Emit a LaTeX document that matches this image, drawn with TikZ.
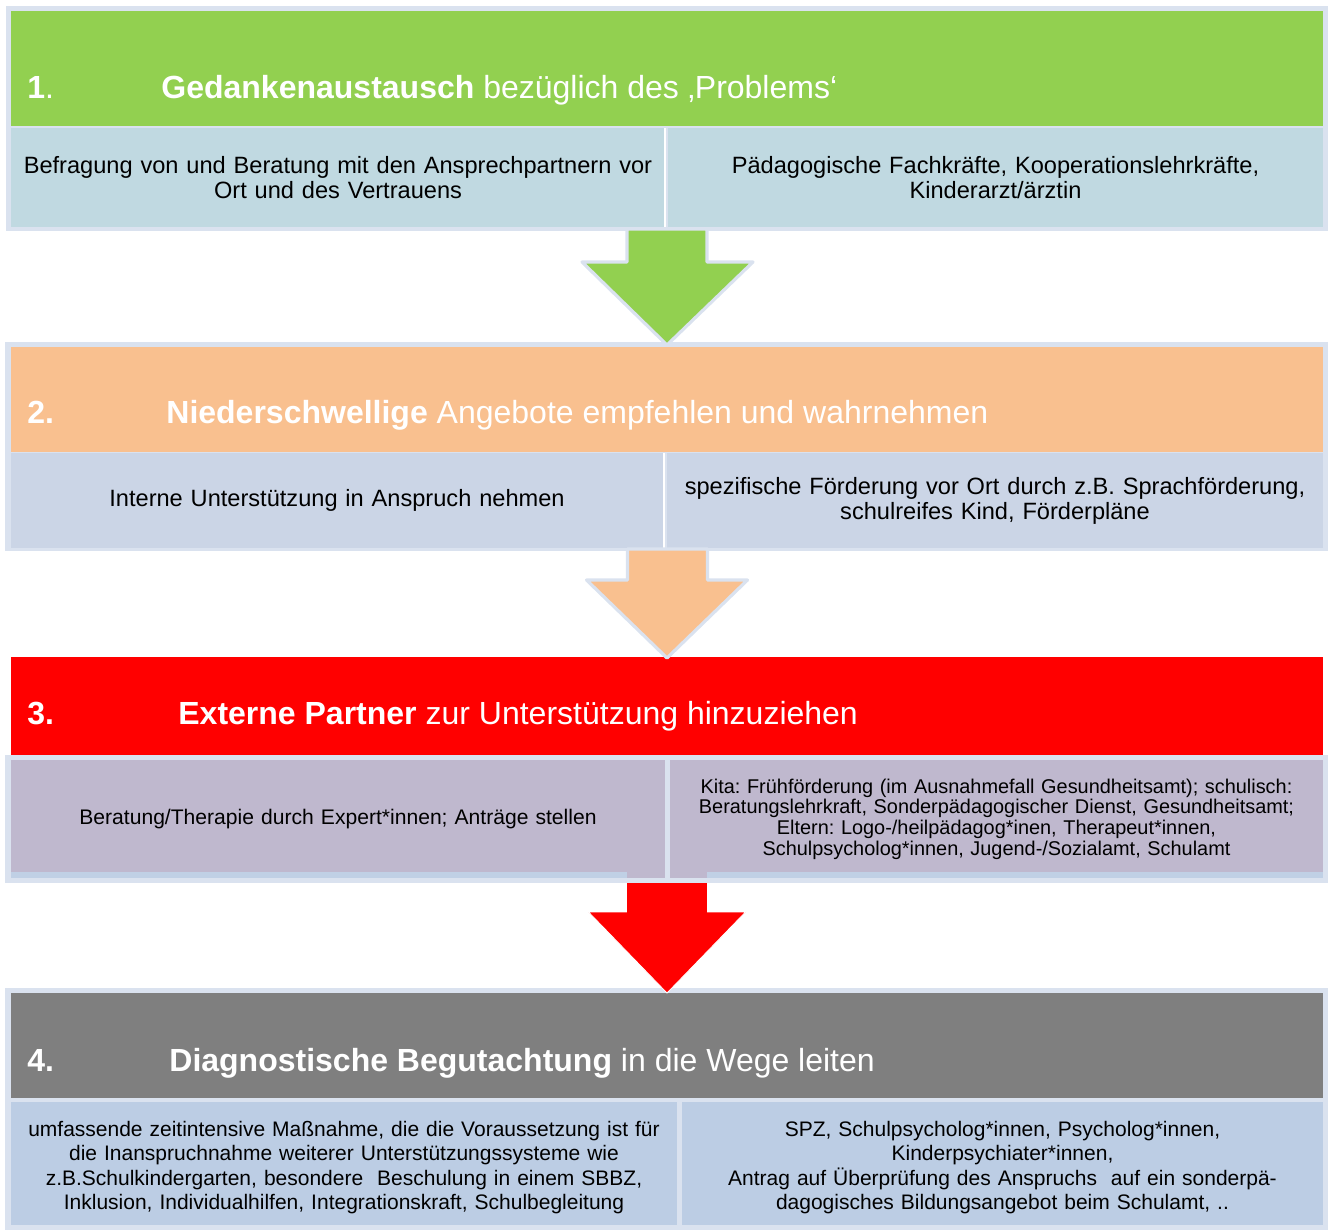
\documentclass[tikz,border=0pt]{standalone}
\usepackage{fontspec}
\setmainfont{Liberation Sans}
\usetikzlibrary{calc}

\definecolor{framecol}{RGB}{218,226,239}
\definecolor{greenhead}{RGB}{146,208,80}
\definecolor{orangehead}{RGB}{249,192,143}
\definecolor{redhead}{RGB}{255,0,0}
\definecolor{grayhead}{RGB}{127,127,127}
\definecolor{cellone}{RGB}{192,217,225}
\definecolor{celltwo}{RGB}{203,213,230}
\definecolor{cellthree}{RGB}{191,184,206}
\definecolor{cellfour}{RGB}{188,205,228}
\definecolor{stripcol}{RGB}{192,208,229}

\begin{document}
\frenchspacing
\begin{tikzpicture}[x=0.5pt,y=-0.5pt,
  box/.style={rectangle,inner sep=0pt,outer sep=0pt,anchor=north west},
  frame/.style={box,fill=framecol},
  cell/.style={box,align=center,text=black},
  bigcell/.style={cell,font=\fontsize{11.8}{12.5}\selectfont},
  smallcell/.style={cell,font=\fontsize{9.95}{10.3}\selectfont},
  midcell/.style={cell,font=\fontsize{10.5}{12.25}\selectfont},
  headtext/.style={inner sep=0pt,anchor=base west,text=white,font=\fontsize{16}{19}\selectfont},
  bordered arrow/.style={draw=framecol,line width=1.6pt,line join=round},
  plain arrow/.style={draw=white,line width=0.4pt,line join=miter}]

\useasboundingbox (0,0) rectangle (1329,1230);

% ---------- step 1 ----------
\node[frame,minimum width=661pt,minimum height=112.5pt] (f1) at (6,6) {};
\node[box,fill=greenhead,minimum width=656pt,minimum height=57.5pt] (h1) at (11,11) {};
\node[bigcell,fill=cellone,minimum width=327pt,minimum height=49.5pt,text width=322pt] (c1a) at (11,128)
  {Befragung von und Beratung mit den Ansprechpartnern vor\\Ort und des Vertrauens};
\node[bigcell,fill=cellone,minimum width=327.5pt,minimum height=49.5pt,text width=322pt] (c1b) at (668,128)
  {Pädagogische Fachkräfte, Kooperationslehrkräfte,\\Kinderarzt/ärztin};
\draw[white,line width=0.8pt] (c1a.north east) -- (c1a.south east);
\node[headtext] (n1) at (27,99) {\textbf{1}.};
\node[headtext] (t1) at (161,99) {\textbf{Gedankenaustausch} bezüglich des ‚Problems‘};

% ---------- step 2 ----------
\node[frame,minimum width=661.5pt,minimum height=104.5pt] (f2) at (5,342) {};
\node[box,fill=orangehead,minimum width=656pt,minimum height=52.5pt] (h2) at (11,347) {};
\node[bigcell,fill=celltwo,minimum width=326pt,minimum height=47.5pt,text width=320pt] (c2a) at (11,453)
  {Interne Unterstützung in Anspruch nehmen};
\node[bigcell,fill=celltwo,minimum width=328pt,minimum height=47.5pt,text width=322pt] (c2b) at (667,453)
  {spezifische Förderung vor Ort durch z.B. Sprachförderung,\\schulreifes Kind, Förderpläne};
\draw[white,line width=0.8pt] (c2a.north east) ++(1,0) -- ++(0,95);
\node[headtext] (n2) at (27,423) {\textbf{2.}};
\node[headtext] (t2) at (166,423) {\textbf{Niederschwellige} Angebote empfehlen und wahrnehmen};

% ---------- step 3 ----------
\node[box,fill=redhead,minimum width=656pt,minimum height=49pt] (h3) at (11,657) {};
\node[frame,minimum width=661.5pt,minimum height=64pt] (f3) at (5,755) {};
\node[smallcell,fill=cellthree,minimum width=327pt,minimum height=59pt,text width=322pt,
  font=\fontsize{10.55}{10.55}\selectfont] (c3a) at (11,760)
  {Beratung/Therapie durch Expert*innen; Anträge stellen};
\node[smallcell,fill=cellthree,minimum width=326.5pt,minimum height=59pt,text width=322pt] (c3b) at (670,760)
  {Kita: Frühförderung (im Ausnahmefall Gesundheitsamt); schulisch:\\
   Beratungslehrkraft, Sonderpädagogischer Dienst, Gesundheitsamt;\\
   Eltern: Logo-/heilpädagog*inen, Therapeut*innen,\\
   Schulpsycholog*innen, Jugend-/Sozialamt, Schulamt};
\fill[stripcol] (11,872) rectangle (627,878);
\fill[stripcol] (707,872) rectangle (1323,878);
\node[headtext] (n3) at (27,724) {\textbf{3.}};
\node[headtext] (t3) at (178,724) {\textbf{Externe Partner} zur Unterstützung hinzuziehen};

% ---------- step 4 ----------
\node[frame,minimum width=661.5pt,minimum height=121pt] (f4) at (5,988) {};
\node[box,fill=grayhead,minimum width=656pt,minimum height=52.5pt] (h4) at (11,993) {};
\node[box,fill=cellfour,minimum width=333pt,minimum height=61.5pt] (c4a) at (11,1102) {};
\node[box,fill=cellfour,minimum width=320.5pt,minimum height=61.5pt] (c4b) at (682,1102) {};
\node[midcell,anchor=center,text width=328pt,yshift=-2pt] (c4atext) at (c4a.center)
  {umfassende zeitintensive Maßnahme, die die Voraussetzung ist für\\
   die Inanspruchnahme weiterer Unterstützungssysteme wie\\
   z.B.Schulkindergarten, besondere\ \ Beschulung in einem SBBZ,\\
   Inklusion, Individualhilfen, Integrationskraft, Schulbegleitung};
\node[midcell,anchor=center,text width=316pt,yshift=-2pt] (c4btext) at (c4b.center)
  {SPZ, Schulpsycholog*innen, Psycholog*innen,\\
   Kinderpsychiater*innen,\\
   Antrag auf Überprüfung des Anspruchs\ \ auf ein sonderpä-\\
   dagogisches Bildungsangebot beim Schulamt, ..};
\node[headtext] (n4) at (27,1071) {\textbf{4.}};
\node[headtext] (t4) at (169,1071) {\textbf{Diagnostische Begutachtung} in die Wege leiten};

% ---------- block arrows between the steps ----------
\draw[bordered arrow,fill=greenhead]
  ($(f1.south)+(-40,-2)$) -- ($(f1.south)+(-40,31)$) -- ($(f1.south)+(-85,31)$)
  -- ($(h2.north)+(0,-2)$)
  -- ($(f1.south)+(86,31)$) -- ($(f1.south)+(40,31)$) -- ($(f1.south)+(40,-2)$) -- cycle;
\draw[bordered arrow,fill=orangehead]
  ($(f2.south)+(-39,-2)$) -- ($(f2.south)+(-39,29)$) -- ($(f2.south)+(-80,29)$)
  -- ($(h3.north)+(0,1)$)
  -- ($(f2.south)+(81,29)$) -- ($(f2.south)+(41,29)$) -- ($(f2.south)+(41,-2)$) -- cycle;
\draw[plain arrow,fill=redhead]
  ($(f3.south)+(-40,0)$) -- ($(f3.south)+(-40,29)$) -- ($(f3.south)+(-78,29)$)
  -- (h4.north)
  -- ($(f3.south)+(79,29)$) -- ($(f3.south)+(41,29)$) -- ($(f3.south)+(41,0)$);
\end{tikzpicture}
\end{document}
